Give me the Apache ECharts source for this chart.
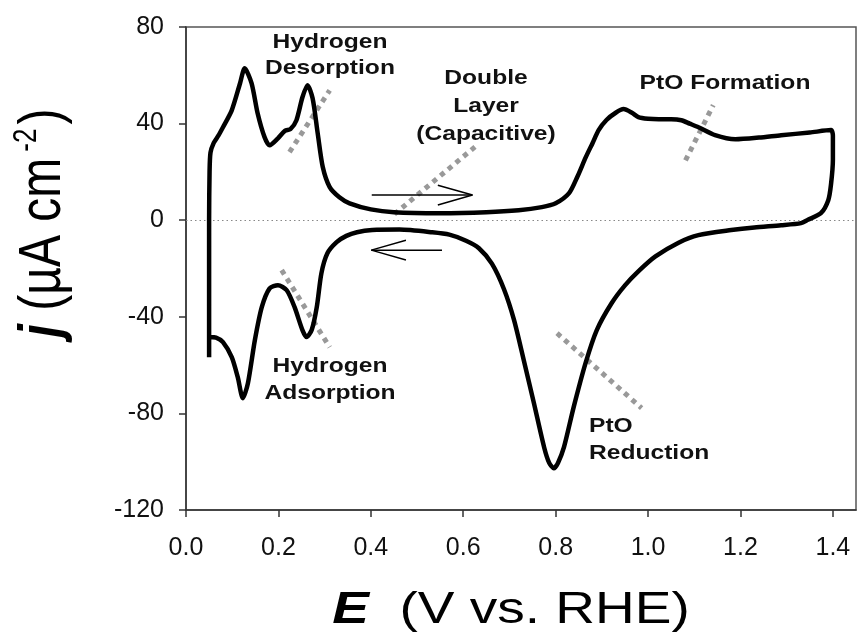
<!DOCTYPE html>
<html>
<head>
<meta charset="utf-8">
<title>Pt cyclic voltammogram</title>
<script src="https://cdn.jsdelivr.net/npm/echarts@6/dist/echarts.min.js"></script>
<style>
  html, body { margin: 0; padding: 0; background: #fff; }
  #main { width: 859px; height: 634px; }
</style>
</head>
<body>
<div id="main"></div>
<script>
// potential (V vs. RHE) and current density (µA cm-2), anodic sweep then cathodic sweep
const potential = [
  0.050, 0.050, 0.050, 0.051, 0.053, 0.060, 0.070, 0.080, 0.099, 0.117,
  0.127, 0.142, 0.155, 0.170, 0.181, 0.199, 0.214, 0.226, 0.239, 0.252,
  0.263, 0.274, 0.285, 0.296, 0.311, 0.332, 0.354, 0.400, 0.450, 0.550,
  0.650, 0.720, 0.770, 0.800, 0.829, 0.847, 0.865, 0.880, 0.893, 0.910,
  0.930, 0.947, 0.965, 0.979, 1.000, 1.023, 1.050, 1.072, 1.090, 1.109,
  1.145, 1.189, 1.240, 1.288, 1.350, 1.396,
  1.400, 1.400, 1.396, 1.390, 1.374, 1.346, 1.331, 1.288, 1.230, 1.180,
  1.109, 1.066, 1.016, 0.980, 0.950, 0.921, 0.889, 0.865, 0.839, 0.818,
  0.805, 0.796, 0.786, 0.775, 0.753, 0.731, 0.710, 0.688, 0.662, 0.634,
  0.606, 0.570, 0.533, 0.462, 0.403, 0.370, 0.347, 0.326, 0.306, 0.293,
  0.283, 0.272, 0.261, 0.252, 0.235, 0.218, 0.199, 0.181, 0.164, 0.149,
  0.134, 0.123, 0.112, 0.099, 0.080, 0.065, 0.052
];
const current = [
  -56.7, -30.0, 0.0, 20.0, 28.0, 32.0, 35.0, 38.5, 45.5, 56.7,
  62.9, 56.7, 44.3, 34.4, 31.0, 33.9, 37.0, 37.7, 41.4, 50.9,
  55.9, 50.5, 36.0, 22.0, 13.7, 9.5, 7.0, 4.5, 3.3, 2.9,
  3.3, 4.1, 5.4, 7.0, 11.2, 18.0, 26.0, 32.0, 37.3, 41.5,
  44.5, 46.0, 44.5, 42.7, 42.0, 41.8, 41.8, 41.4, 40.0, 38.5,
  35.2, 33.5, 34.2, 35.2, 36.3, 37.3,
  35.0, 25.0, 15.0, 8.3, 2.9, 0.2, -1.2, -2.1, -3.0, -4.1,
  -6.2, -9.3, -15.0, -21.0, -27.0, -34.4, -45.5, -59.0, -77.4, -94.0,
  -100.5, -102.7, -100.5, -94.0, -75.8, -58.0, -41.4, -28.5, -18.0, -11.6,
  -8.5, -6.0, -5.0, -3.9, -4.1, -5.0, -6.5, -9.1, -13.7, -22.0,
  -36.0, -45.5, -48.4, -45.5, -36.0, -29.0, -26.9, -28.2, -36.0, -49.7,
  -67.5, -73.7, -65.0, -56.7, -50.5, -48.6, -48.4
];

const xTicks = [0, 0.2, 0.4, 0.6, 0.8, 1.0, 1.2, 1.4];

// grey dotted guide lines next to each feature: [E, j] end points
const guideDesorption = [[0.224, 28.2], [0.311, 53.8]];
const guideDoubleLayer = [[0.451, 2.5], [0.630, 31.1]];
const guideFormation = [[1.081, 24.8], [1.141, 47.6]];
const guideReduction = [[0.803, -46.8], [0.986, -77.8]];
const guideAdsorption = [[0.207, -20.7], [0.311, -52.6]];

// sweep direction arrows: shaft and open head
const arrowForward = [[0.402, 10.4], [0.620, 10.4]];
const arrowForwardHead = [[0.545, 14.5], [0.620, 10.4], [0.545, 6.3]];
const arrowBack = [[0.554, -12.4], [0.401, -12.4]];
const arrowBackHead = [[0.476, -8.3], [0.401, -12.4], [0.476, -16.5]];

const cvData = potential.map((e, i) => [e, current[i]]);

function guide(data) {
  return {
    type: 'line', data: data, showSymbol: false, silent: true, z: 1,
    lineStyle: { color: '#999', width: 5, type: [5, 5], cap: 'butt' }
  };
}
function thin(data) {
  return {
    type: 'line', data: data, showSymbol: false, silent: true, z: 3,
    lineStyle: { color: '#000', width: 1.5 }
  };
}

const chart = echarts.init(document.getElementById('main'), null, { renderer: 'canvas' });
const FAM = '"Liberation Sans", Arial, sans-serif';
const labelFont = 'bold 20.5px ' + FAM;

// the original figure is a little wider than its letters, so the text is stretched sideways
function note(x, y, text, align, lh) {
  return {
    type: 'text', x: x, y: y, scaleX: 1.2,
    style: { text: text, font: labelFont, fill: '#111', align: align, lineHeight: lh }
  };
}

chart.setOption({
  animation: false,
  backgroundColor: '#fff',
  grid: { left: 186, right: 3, top: 27, bottom: 124, show: true, borderColor: '#555', borderWidth: 1.5 },
  xAxis: {
    type: 'value', min: 0, max: 1.45,
    axisLine: { onZero: false, lineStyle: { color: '#333', width: 1.5 } },
    axisTick: { customValues: xTicks, length: 7, lineStyle: { color: '#333', width: 1.5 } },
    axisLabel: {
      customValues: xTicks, margin: 26, color: '#111', fontSize: 25, fontFamily: FAM,
      formatter: v => v.toFixed(1)
    },
    splitLine: { show: false }
  },
  yAxis: {
    type: 'value', min: -120, max: 80, interval: 40,
    axisLine: { onZero: false, lineStyle: { color: '#333', width: 1.5 } },
    axisTick: { length: 7, lineStyle: { color: '#333', width: 1.5 } },
    axisLabel: { margin: 22, color: '#111', fontSize: 25, fontFamily: FAM },
    splitLine: { show: false }
  },
  series: [
    guide(guideDesorption),
    guide(guideDoubleLayer),
    guide(guideFormation),
    guide(guideReduction),
    guide(guideAdsorption),
    thin(arrowForward), thin(arrowForwardHead),
    thin(arrowBack), thin(arrowBackHead),
    {
      type: 'line', data: cvData, showSymbol: false, smooth: 0.25, z: 5,
      lineStyle: { color: '#000', width: 4.5, join: 'round' },
      markLine: {
        silent: true, symbol: 'none', label: { show: false },
        lineStyle: { color: '#888', width: 1.2, type: [1.5, 3] },
        data: [{ yAxis: 0 }]
      }
    }
  ],
  graphic: [
    note(330, 29, 'Hydrogen\nDesorption', 'center', 26),
    note(486, 64, 'Double\nLayer\n(Capacitive)', 'center', 28),
    note(725, 70, 'PtO Formation', 'center', 26),
    note(330, 353, 'Hydrogen\nAdsorption', 'center', 27),
    note(589, 413, 'PtO\nReduction', 'left', 27),
    {
      type: 'text', x: 511, y: 611, scaleX: 1.25,
      style: {
        text: '{b|E}  (V vs. RHE)', align: 'center', verticalAlign: 'middle', fill: '#000',
        font: '44px ' + FAM,
        rich: { b: { font: 'bold italic 44px ' + FAM } }
      }
    },
    {
      type: 'text', x: 42, y: 223, rotation: Math.PI / 2, scaleY: 1.25,
      style: {
        text: '{b|j} {m|(µA cm}{s|-2}{m|)}', align: 'center', verticalAlign: 'middle', fill: '#000',
        font: '48px ' + FAM,
        rich: {
          b: { font: 'bold italic 48px ' + FAM, lineHeight: 50, verticalAlign: 'bottom' },
          m: { font: '48px ' + FAM, lineHeight: 50, verticalAlign: 'bottom' },
          s: { font: '26px ' + FAM, lineHeight: 26, verticalAlign: 'top', padding: [0, 4, 50, 6] }
        }
      }
    }
  ]
});
</script>
</body>
</html>
